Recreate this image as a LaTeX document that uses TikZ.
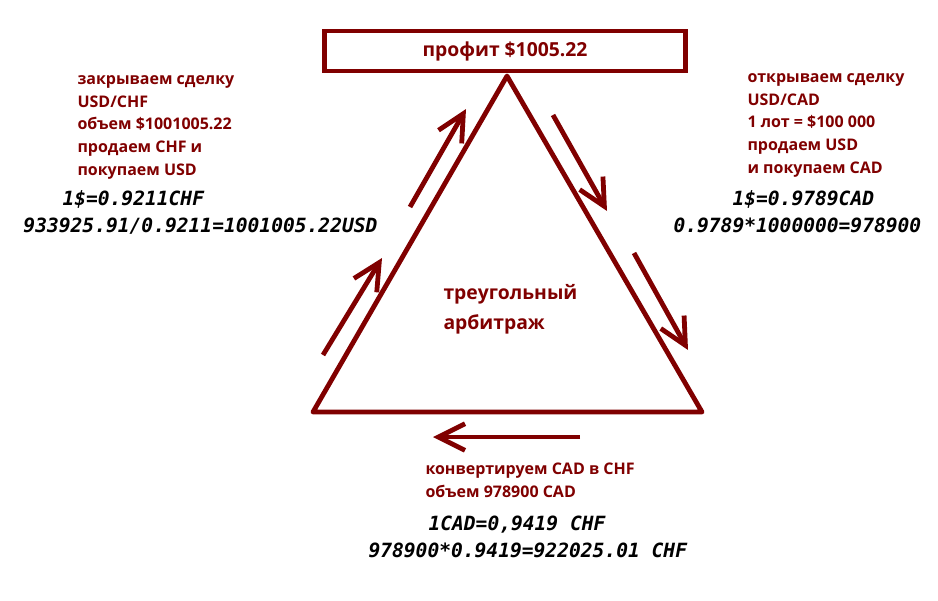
\documentclass[tikz,border=0pt]{standalone}
\usepackage{fontspec}
\setmainfont{Open Sans}
\newfontfamily\ratefont{DejaVu Sans Mono}
\usetikzlibrary{arrows.meta}
\definecolor{arbred}{HTML}{800000}

\tikzset{every picture/.style={line width=0.75pt}}
\tikzset{
  edge/.style={draw=arbred, line width=3.6pt, line join=round},
  flow/.style={draw=arbred, line width=3.6pt, -{Straight Barb[length=20pt,width=20pt]}},
  note/.style={anchor=base west, inner sep=0pt, text=arbred, align=left, font=\bfseries\fontsize{12}{16.9}\selectfont},
  rate/.style={anchor=base west, inner sep=0pt, font=\ratefont\bfseries\itshape\fontsize{14.7}{21}\selectfont},
}

\begin{document}
\begin{tikzpicture}[x=0.75pt,y=0.75pt,yscale=-1,xscale=1]
\useasboundingbox (0,0) rectangle (938,600);

%Triangle corners
\coordinate (apex) at (507,76);
\coordinate (left) at (313,412);
\coordinate (right) at (702,412);
\draw [edge] (apex) -- (left) -- (right) -- cycle;

%Profit box
\node (profit) [draw=arbred, line width=3.6pt, fill=white, minimum width=271pt, minimum height=30pt, text=arbred, font=\bfseries\fontsize{14.5}{16}\selectfont] at (505,51) {профит \$1005.22};

%Arrow ends
\coordinate (a1) at (323,355);
\coordinate (b1) at (382,258);
\coordinate (a2) at (410,207);
\coordinate (b2) at (466,109);
\coordinate (a3) at (553,115);
\coordinate (b3) at (607,211);
\coordinate (a4) at (634,253);
\coordinate (b4) at (688,350);
\coordinate (a5) at (580,437);
\coordinate (b5) at (433,437);
\draw [flow] (a1) -- (b1);
\draw [flow] (a2) -- (b2);
\draw [flow] (a3) -- (b3);
\draw [flow] (a4) -- (b4);
\draw [flow] (a5) -- (b5);

% Text Node (anchored at the last line)
\node (close) [note] at (77,175) {закрываем сделку\\USD/CHF\\объем \$1001005.22\\продаем CHF и\\покупаем USD};
% Text Node
\node (open) [note] at (747,173) {открываем сделку\\USD/CAD\\1 лот = \$100 000\\продаем USD\\и покупаем CAD};
% Text Node
\node (convert) [note] at (425,497) {конвертируем CAD в CHF\\объем 978900 CAD};
% Text Node
\node (title) [note, font=\bfseries\fontsize{14.5}{22.5}\selectfont] at (443,329) {треугольный\\арбитраж};

% Text Node
\node (chfrate) [rate] at (62,205) {1\$=0.9211CHF};
% Text Node
\node (chfsum) [rate] at (23,232) {933925.91/0.9211=1001005.22USD};
% Text Node
\node (cadrate) [rate] at (732,205) {1\$=0.9789CAD};
% Text Node
\node (cadsum) [rate] at (673,232) {0.9789*1000000=978900};
% Text Node
\node (crossrate) [rate] at (428,530) {1CAD=0,9419 CHF};
% Text Node
\node (crosssum) [rate] at (368,557) {978900*0.9419=922025.01 CHF};

\end{tikzpicture}
\end{document}
